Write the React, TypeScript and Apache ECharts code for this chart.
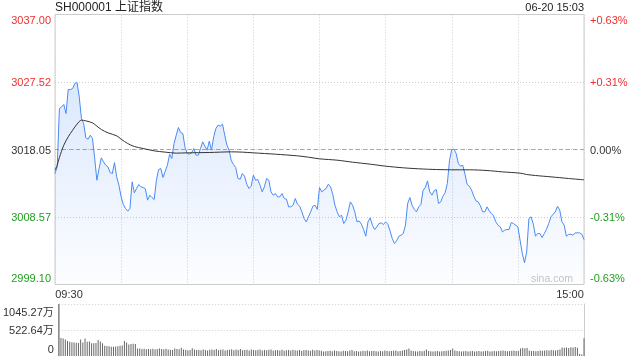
import React, { useEffect, useRef } from 'react';
import * as echarts from 'echarts';

const PREV_CLOSE = 3018.05;
const STEP = 9.475;
const VOL_MAX = 1045.27;

const TITLE = 'SH000001 上证指数';
const STAMP = '06-20 15:03';
const WATERMARK = 'sina.com';
const TIME_TICKS = ['09:30', '15:00'];
const PRICE_TICKS = ['2999.10', '3008.57', '3018.05', '3027.52', '3037.00'];
const PCT_TICKS = ['-0.63%', '-0.31%', '0.00%', '+0.31%', '+0.63%'];
const VOL_TICKS = ['0', '522.64万', '1045.27万'];

// one price per trading minute, 09:30 .. 11:30 | 13:01 .. 15:00
const PRICE = [
  3014.68, 3015.62, 3023.81, 3024.04, 3024.37, 3023.10, 3026.47, 3026.47, 3026.61, 3027.32,
  3027.46, 3025.44, 3022.40, 3021.70, 3019.69, 3019.50, 3020.06, 3019.59, 3016.79, 3013.74,
  3015.38, 3016.88, 3016.32, 3015.85, 3015.62, 3014.82, 3014.68, 3016.22, 3014.21, 3013.04,
  3011.40, 3010.33, 3009.77, 3009.39, 3009.77, 3013.51, 3011.97, 3012.57, 3013.14, 3012.81,
  3012.71, 3012.53, 3010.94, 3011.64, 3011.31, 3011.03, 3013.74, 3015.24, 3015.38, 3014.12,
  3015.01, 3015.85, 3017.39, 3016.79, 3018.89, 3020.06, 3021.14, 3020.44, 3020.30, 3018.33,
  3017.49, 3017.39, 3017.58, 3018.19, 3017.25, 3017.25, 3018.19, 3019.13, 3018.52, 3017.96,
  3019.22, 3017.96, 3019.83, 3021.00, 3021.47, 3021.33, 3021.61, 3020.06, 3018.66, 3017.96,
  3016.46, 3015.94, 3015.52, 3013.98, 3013.88, 3014.68, 3014.31, 3013.18, 3012.57, 3012.90,
  3014.45, 3013.74, 3013.84, 3013.04, 3012.11, 3012.81, 3013.98, 3013.74, 3012.11, 3011.64,
  3011.87, 3011.40, 3011.40, 3011.87, 3011.17, 3011.08, 3010.00, 3010.00, 3010.23, 3011.17,
  3010.37, 3010.09, 3009.30, 3008.36, 3007.89, 3008.60, 3009.30, 3010.09, 3010.23, 3009.63,
  3012.71, 3012.11, 3012.34, 3012.57, 3013.18, 3012.81, 3011.78, 3010.23, 3009.30, 3008.60,
  3008.83, 3007.66, 3008.13, 3009.30, 3010.70, 3010.23, 3009.30, 3007.89, 3008.03, 3007.57,
  3006.82, 3005.88, 3007.89, 3008.46, 3007.43, 3006.82, 3007.19, 3007.66, 3007.75, 3007.52,
  3007.89, 3007.57, 3006.63, 3005.55, 3004.85, 3005.23, 3005.88, 3006.02, 3006.26, 3007.43,
  3010.47, 3011.31, 3010.23, 3009.63, 3009.30, 3010.00, 3010.33, 3012.34, 3012.71, 3013.65,
  3012.11, 3011.64, 3012.25, 3012.43, 3010.47, 3010.70, 3011.50, 3011.97, 3013.28, 3016.55,
  3018.05, 3018.10, 3017.49, 3016.08, 3015.71, 3015.85, 3014.59, 3013.14, 3012.90, 3012.34,
  3011.50, 3010.84, 3010.70, 3010.14, 3009.30, 3009.30, 3010.00, 3009.44, 3009.06, 3008.74,
  3007.89, 3007.43, 3007.19, 3006.49, 3006.72, 3006.82, 3006.82, 3007.80, 3007.66, 3007.43,
  3007.19, 3005.32, 3003.45, 3002.14, 3003.68, 3008.36, 3008.60, 3007.57, 3005.88, 3006.26,
  3006.26, 3005.69, 3006.26, 3006.86, 3007.66, 3008.60, 3008.97, 3009.30, 3010.09, 3009.53,
  3007.89, 3007.43, 3005.88, 3006.12, 3006.16, 3006.02, 3006.35, 3006.35, 3006.35, 3006.16,
  3005.41,
];

const AVG_MIN = [
  0, 1, 2, 4, 6, 8, 10, 12, 14, 17, 19, 21, 24, 28, 30, 33, 36, 40, 45, 50, 55, 60, 70, 80,
  85, 90, 100, 110, 115, 120, 128, 135, 143, 150, 158, 165, 173, 180, 188, 196, 203, 211, 214,
  218, 225, 233, 240,
];
const AVG_VAL = [
  3015.15, 3015.85, 3016.93, 3018.66, 3019.83, 3020.76, 3021.61, 3022.17, 3022.07, 3021.79,
  3021.33, 3020.86, 3020.39, 3019.97, 3019.50, 3018.89, 3018.47, 3018.19, 3017.86, 3017.68,
  3017.54, 3017.58, 3017.63, 3017.72, 3017.68, 3017.58, 3017.39, 3017.16, 3016.97, 3016.74,
  3016.55, 3016.27, 3015.99, 3015.71, 3015.48, 3015.34, 3015.24, 3015.20, 3015.20, 3015.10,
  3014.91, 3014.73, 3014.54, 3014.40, 3014.21, 3013.98, 3013.79,
];

// volume per minute, in 万
const VOLUME = [
  1045.27,
  362, 350, 330, 300, 285, 275, 270, 265, 260, 330,
  270, 350, 285, 290, 255, 255, 260, 320, 290, 255,
  205, 200, 195, 185, 185, 190, 195, 205, 210, 300,
  270, 230, 240, 245, 240, 150, 150, 140, 145, 135,
  140, 135, 145, 130, 140, 150, 140, 135, 145, 130,
  125, 120, 150, 140, 135, 165, 130, 125, 115, 120,
  155, 130, 120, 125, 115, 130, 120, 110, 125, 130,
  120, 140, 115, 125, 130, 110, 120, 125, 135, 115,
  130, 120, 140, 115, 120, 125, 110, 130, 120, 115,
  125, 130, 110, 120, 115, 125, 130, 110, 115, 120,
  110, 125, 105, 115, 120, 110, 125, 115, 110, 120,
  105, 115, 120, 110, 105, 125, 110, 120, 115, 105,
  90, 95, 100, 105, 95, 110, 100, 95, 90, 105,
  100, 95, 110, 120, 95, 100, 90, 95, 105, 100,
  110, 95, 100, 105, 95, 90, 100, 95, 110, 100,
  95, 100, 105, 110, 95, 100, 110, 120, 130, 150,
  110, 100, 95, 90, 100, 95, 105, 130, 100, 95,
  90, 95, 100, 90, 95, 100, 105, 110, 120, 150,
  110, 100, 95, 90, 95, 100, 90, 95, 100, 90,
  95, 100, 90, 95, 100, 105, 90, 95, 100, 95,
  100, 105, 110, 100, 95, 100, 105, 110, 100, 105,
  150, 160, 155, 160, 110, 100, 105, 95, 100, 110,
  105, 110, 115, 110, 120, 115, 110, 120, 130, 170,
  165, 170, 160, 175, 170, 180, 165, 40, 30, 355,
];

const FONT = '"Liberation Sans", Arial, "Noto Sans CJK SC", sans-serif';
const RED = '#ee3030';
const GREEN = '#1f9f1f';
const BLACK = '#333333';
const GRID_COLOR = '#cccccc';
const ZERO_COLOR = '#f5904f';

export default function App() {
  const ref = useRef<HTMLDivElement>(null);

  useEffect(() => {
    const chart = echarts.init(ref.current!, null, { renderer: 'svg' });

    const toStep = (p: number) => (p - PREV_CLOSE) / STEP;
    const priceData = PRICE.map((p, i) => [i, toStep(p)]);
    const avgData = AVG_MIN.map((m, i) => [m, toStep(AVG_VAL[i])]);
    const volData = VOLUME.map((v, i) => [i, v]);
    const lastMinute = PRICE.length - 1;
    const prevCloseData = [[0, toStep(PREV_CLOSE)], [lastMinute, toStep(PREV_CLOSE)]];

    const rich: any = {};
    const colors: any = { r: RED, g: GREEN, k: BLACK };
    const pads: any = { T: [11, 0, 0, 0], M: [0, 0, 0, 0], B: [0, 0, 13, 0] };
    Object.keys(colors).forEach((c) => {
      Object.keys(pads).forEach((p) => {
        rich[c + p] = { color: colors[c], padding: pads[p], fontSize: 11, fontFamily: FONT };
      });
    });

    const stepLabel = (ticks: string[]) => (v: number) => {
      const i = Math.round(v) + 2;
      const t = ticks[i];
      if (t === undefined) return '';
      const c = i > 2 ? 'r' : i < 2 ? 'g' : 'k';
      const p = i === 4 ? 'T' : i === 0 ? 'B' : 'M';
      return `{${c}${p}|${t}}`;
    };

    const volStep = VOL_MAX / 2;

    chart.setOption({
      animation: false,
      textStyle: { fontFamily: FONT },
      grid: [
        { left: 55, top: 14.5, width: 529, height: 270, show: true, borderColor: GRID_COLOR, borderWidth: 1 },
        { left: 55, top: 304, width: 529, height: 52, show: false },
      ],
      xAxis: [
        {
          type: 'value', gridIndex: 0, min: 0, max: 240, interval: 30,
          axisLine: { show: false }, axisTick: { show: false },
          splitLine: { show: true, lineStyle: { color: GRID_COLOR, type: [1, 2], width: 1 } },
          axisLabel: {
            show: true, margin: 4, showMinLabel: true, showMaxLabel: true,
            color: BLACK, fontSize: 11, fontFamily: FONT,
            formatter: (v: number) => (v === 0 ? `{L|${TIME_TICKS[0]}}` : v === 240 ? `{R|${TIME_TICKS[1]}}` : ''),
            rich: {
              L: { padding: [0, 0, 0, 28], color: BLACK, fontSize: 11, fontFamily: FONT },
              R: { padding: [0, 28, 0, 0], color: BLACK, fontSize: 11, fontFamily: FONT },
            },
          },
        },
        {
          type: 'value', gridIndex: 1, min: 0, max: 240, interval: 30,
          axisLine: { show: false }, axisTick: { show: false }, axisLabel: { show: false },
          splitLine: { show: false },
        },
      ],
      yAxis: [
        {
          type: 'value', gridIndex: 0, min: -2, max: 2, interval: 1,
          axisLine: { show: false }, axisTick: { show: false },
          splitLine: { show: true, lineStyle: { color: GRID_COLOR, type: [1, 2], width: 1 } },
          axisLabel: { margin: 4, formatter: stepLabel(PRICE_TICKS), rich },
        },
        {
          type: 'value', gridIndex: 0, min: -2, max: 2, interval: 1, position: 'right',
          axisLine: { show: false }, axisTick: { show: false }, splitLine: { show: false },
          axisLabel: { margin: 6, formatter: stepLabel(PCT_TICKS), rich },
        },
        {
          type: 'value', gridIndex: 1, min: 0, max: VOL_MAX, interval: volStep,
          axisLine: { show: true, lineStyle: { color: GRID_COLOR } }, axisTick: { show: false },
          splitLine: { show: true, lineStyle: { color: ['transparent', GRID_COLOR, GRID_COLOR], type: [1, 2] } },
          axisLabel: {
            margin: 5,
            formatter: (v: number) => {
              const i = Math.round(v / volStep);
              const p = i === 2 ? 'T' : i === 0 ? 'B' : 'M';
              return `{${p}|${VOL_TICKS[i]}}`;
            },
            rich: {
              T: { padding: [16, 0, 0, 0], color: BLACK, fontSize: 11, fontFamily: FONT },
              M: { padding: [0, 0, 0, 0], color: BLACK, fontSize: 11, fontFamily: FONT },
              B: { padding: [0, 0, 15, 0], color: BLACK, fontSize: 11, fontFamily: FONT },
            },
          },
        },
        {
          type: 'value', gridIndex: 1, min: 0, max: VOL_MAX, interval: volStep, position: 'right',
          axisLine: { show: true, lineStyle: { color: GRID_COLOR } }, axisTick: { show: false },
          axisLabel: { show: false }, splitLine: { show: false },
        },
      ],
      series: [
        {
          // previous close reference
          type: 'line', xAxisIndex: 0, yAxisIndex: 0, data: prevCloseData, showSymbol: false, symbol: 'none',
          silent: true, lineStyle: { color: ZERO_COLOR, type: [4, 3], width: 1 }, z: 2,
        },
        {
          type: 'line', xAxisIndex: 0, yAxisIndex: 0, data: priceData, showSymbol: false, symbol: 'none',
          lineStyle: { color: '#4a8af4', width: 1 },
          areaStyle: {
            origin: 'start',
            color: new echarts.graphic.LinearGradient(0, 0, 0, 1, [
              { offset: 0, color: 'rgba(74,138,244,0.28)' },
              { offset: 1, color: 'rgba(74,138,244,0.02)' },
            ]),
          },
          z: 3,
        },
        {
          type: 'line', xAxisIndex: 0, yAxisIndex: 0, data: avgData, showSymbol: false, symbol: 'none',
          smooth: 0.3, lineStyle: { color: '#333', width: 1 }, z: 4,
        },
        {
          type: 'bar', xAxisIndex: 1, yAxisIndex: 2, data: volData, barWidth: 1, clip: false,
          itemStyle: { color: '#666' },
        },
      ],
      graphic: [
        { type: 'text', left: 55, top: 1, style: { text: TITLE, font: `12px ${FONT}`, fill: '#222' } },
        { type: 'text', right: 56, top: 1, style: { text: STAMP, font: `11px ${FONT}`, fill: '#222' } },
        { type: 'text', right: 67, top: 273, style: { text: WATERMARK, font: `10.5px ${FONT}`, fill: '#c4c4c4' } },
      ],
    });

    return () => chart.dispose();
  }, []);

  return <div ref={ref} style={{ position: 'fixed', left: 0, top: 0, width: 640, height: 360 }} />;
}
